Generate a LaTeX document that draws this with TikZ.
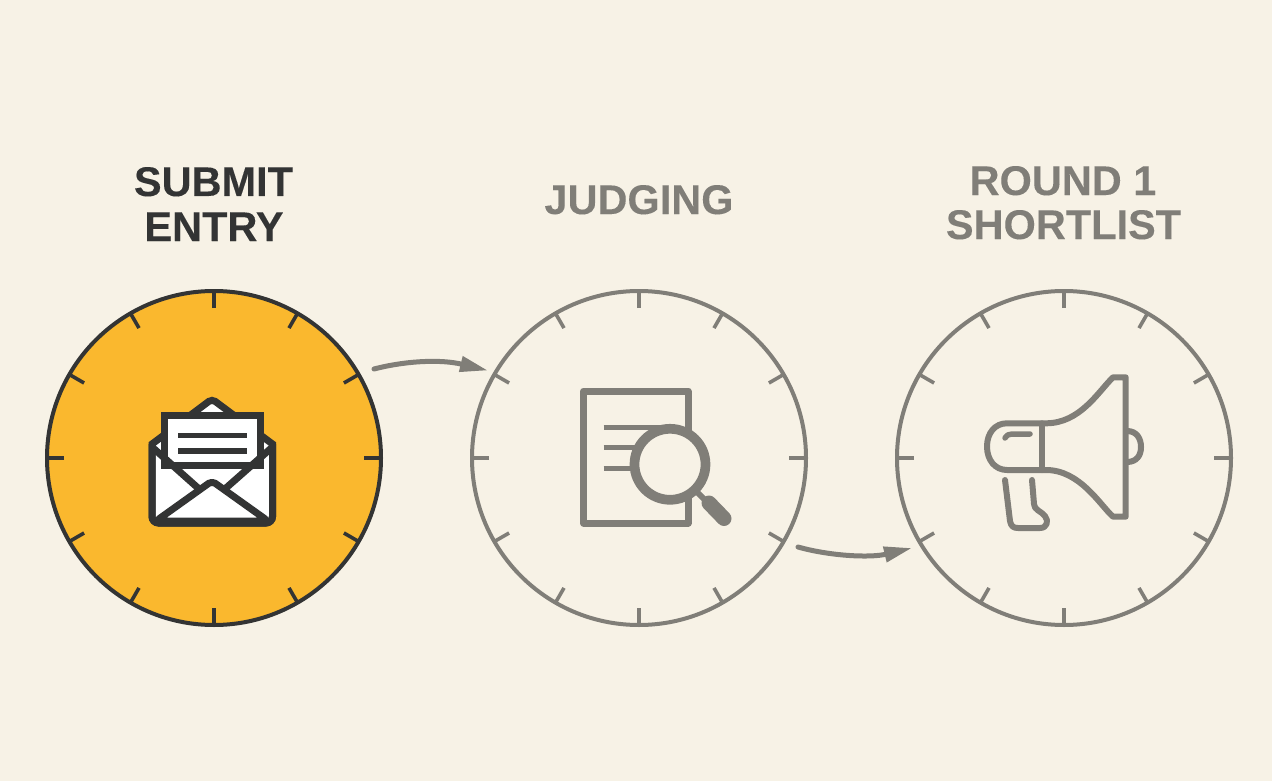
\documentclass[tikz,border=0pt]{standalone}
\usepackage{fontspec}
\setmainfont{Liberation Sans}
\newfontfamily\headfont[BoldFeatures={FakeBold=0.12}]{Liberation Sans}
\usetikzlibrary{arrows.meta}
\definecolor{bgc}{HTML}{F7F2E6}
\definecolor{ink}{HTML}{333434}
\definecolor{gry}{HTML}{807E78}
\definecolor{amber}{HTML}{FAB82E}
\tikzset{
  x=1pt,y=-1pt,
  dial/.style={circle,draw=#1,line width=4pt,minimum size=334pt,inner sep=0pt,outer sep=0pt},
  tickmark/.style={line width=3.6pt},
  label/.style={anchor=base,align=center,font=\headfont\fontsize{41.5}{41.5}\selectfont\bfseries,text=#1,inner sep=0pt},
  flow/.style={draw=gry,line width=5pt,line cap=round,-{Triangle[length=28pt,width=15pt]}},
  env/.style={draw=ink,line width=7pt,fill=white,line join=miter},
  icon/.style={draw=gry,line width=6pt,line cap=round,line join=round},
}
\begin{document}
\begin{tikzpicture}
\useasboundingbox (0,0) rectangle (1272,781);
\fill[bgc] (0,0) rectangle (1272,781);

% dials
\node[dial=ink,fill=amber] (a) at (214,458) {};
\node[dial=gry] (b) at (639,458) {};
\node[dial=gry] (c) at (1064,458) {};
\foreach \n/\col in {a/ink,b/gry,c/gry}
  \foreach \d in {0,30,...,330}
    \draw[tickmark,\col] ([shift={(\d:150)}]\n.center) -- ([shift={(\d:166)}]\n.center);

% titles
\node[label=ink] (t1a) at (213.5,196) {SUBMIT};
\node[label=ink] (t1b) at (214,241) {ENTRY};
\node[label=gry] (t2) at (639,214) {JUDGING};
\node[label=gry] (t3a) at (1063,195) {ROUND 1};
\node[label=gry] (t3b) at (1063.5,239) {SHORTLIST};

% arrows
\coordinate (s1) at (374,369);
\coordinate (e1) at (488,370.5);
\coordinate (s2) at (798,547);
\coordinate (e2) at (912,548);
\draw[flow] (s1) .. controls (405,361) and (440,359) .. (e1);
\draw[flow] (s2) .. controls (830,556) and (870,558) .. (e2);

% envelope
\draw[env] (152,444) -- (152,516) [rounded corners=6.5pt] -- (152,523) -- (272.5,523) [sharp corners] -- (272.5,444) [rounded corners=4pt] -- (212,399) [sharp corners] -- cycle;
\draw[env] (164,415.5) rectangle (260.5,465.5);
\draw[ink,line width=5.5pt] (178,435.5) -- (247,435.5) (178,451) -- (247,451);
\draw[ink,line width=7pt] (152,447) -- (198,488) (272.5,447) -- (226,488);
\draw[env,rounded corners=4pt,line join=round] (156,521) -- (212,481) -- (268,521) -- cycle;
\draw[ink,line width=7pt,rounded corners=6.5pt] (152,444) -- (152,523) -- (272.5,523) -- (272.5,444);

% document and magnifier
\draw[gry,line width=7pt,line join=round] (583.5,391) rectangle (688,523);
\draw[gry,line width=5pt] (603.5,427) -- (670,427) (603.5,447) -- (670,447) (603.5,468) -- (670,468);
\draw[gry,line width=6pt] (695,490) -- (709,504);
\draw[gry,line width=15pt,line cap=round] (709,503) -- (724,518.5);
\node[circle,draw=gry,fill=bgc,line width=9.7pt,minimum size=71pt,inner sep=0pt,outer sep=0pt] (lens) at (670,464.3) {};

% megaphone
\draw[icon] (1113,377.3) -- (1125.7,377.3) -- (1125.7,516.7) -- (1113,516.7)
  .. controls (1100,505) and (1080,470) .. (1046,470) -- (1007,470)
  .. controls (995,470) and (987,460) .. (987,446.5)
  .. controls (987,433) and (995,423.3) .. (1007,423.3) -- (1046,423.3)
  .. controls (1080,423.3) and (1098,392) .. (1113,377.3) -- cycle;
\draw[icon] (1042,423.3) -- (1042,470);
\draw[icon,line width=5.5pt] (1005,438) .. controls (1007,435) and (1009,434) .. (1012,434) -- (1030,434);
\draw[icon] (1127,431) .. controls (1137,431) and (1141,439) .. (1141,447)
  .. controls (1141,455) and (1137,462) .. (1127,462);
\draw[icon] (1005,480) -- (1010,521) .. controls (1011,526) and (1013,528) .. (1018,528) -- (1040,528)
  .. controls (1047,528) and (1049,521) .. (1045,516) .. controls (1041,511) and (1034,510) .. (1034,504) -- (1032,480);
\end{tikzpicture}
\end{document}
